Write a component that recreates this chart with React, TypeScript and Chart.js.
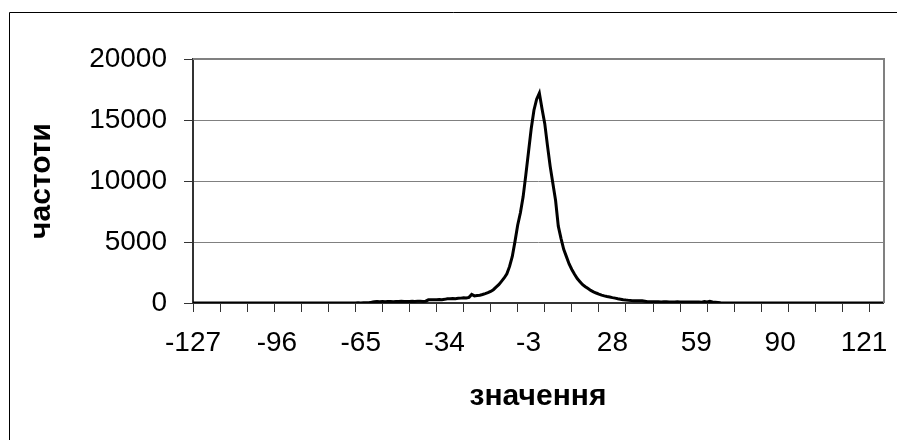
import { useEffect, useRef } from "react";
import { Chart, registerables } from "chart.js";

Chart.register(...registerables);

// first category of the x axis (значення)
const firstCategory = -127;

// frequencies (частоти) for значення -127 … 128
const frequencies: number[] = [
  // -127 … -118
  0, 0, 0, 0, 0, 0, 0, 0, 0, 0,
  // -117 … -108
  0, 0, 0, 0, 0, 0, 0, 0, 0, 0,
  // -107 … -98
  0, 0, 0, 0, 0, 0, 0, 0, 0, 0,
  // -97 … -88
  0, 0, 0, 0, 0, 0, 0, 0, 0, 0,
  // -87 … -78
  0, 0, 0, 0, 0, 0, 0, 0, 0, 0,
  // -77 … -68
  0, 0, 5, 0, 0, 10, 0, 5, 0, 10,
  // -67 … -58
  10, 15, 10, 20, 15, 30, 60, 110, 120, 110,
  // -57 … -48
  120, 110, 130, 120, 110, 130, 120, 140, 130, 120,
  // -47 … -38
  130, 140, 130, 150, 140, 130, 150, 260, 270, 260,
  // -37 … -28
  270, 280, 270, 300, 350, 340, 360, 350, 380, 400,
  // -27 … -18
  420, 410, 460, 700, 580, 620, 640, 700, 770, 850,
  // -17 … -8
  950, 1090, 1300, 1500, 1770, 2050, 2400, 3000, 3820, 5050,
  // -7 … 2
  6400, 7400, 8700, 10500, 12400, 14300, 15800, 16700, 17200, 15900,
  // 3 … 12
  14700, 12900, 11200, 9800, 8400, 6300, 5300, 4400, 3800, 3200,
  // 13 … 22
  2750, 2350, 2000, 1750, 1500, 1330, 1180, 1030, 920, 820,
  // 23 … 32
  730, 650, 580, 530, 490, 440, 400, 350, 310, 270,
  // 33 … 42
  240, 215, 200, 190, 185, 180, 175, 140, 110, 100,
  // 43 … 52
  100, 95, 100, 90, 95, 100, 90, 85, 90, 95,
  // 53 … 62
  85, 90, 80, 85, 90, 80, 75, 80, 70, 130,
  // 63 … 72
  90, 140, 80, 60, 40, 20, 10, 5, 10, 0,
  // 73 … 82
  5, 0, 0, 5, 0, 0, 0, 0, 0, 0,
  // 83 … 92
  0, 0, 0, 0, 0, 0, 0, 0, 0, 0,
  // 93 … 102
  0, 0, 0, 0, 0, 0, 0, 0, 0, 0,
  // 103 … 112
  0, 0, 0, 0, 0, 0, 0, 0, 0, 0,
  // 113 … 122
  0, 0, 0, 0, 0, 0, 0, 0, 0, 0,
  // 123 … 128
  0, 0, 0, 0, 0, 0,
];

const categories: string[] = frequencies.map((_, i) => String(firstCategory + i));

const labelEvery = 31; // -127, -96, -65, … 121
const tickMarkEvery = 10;
const yMin = 0;
const yMax = 20000;
const yStep = 5000;

const xTitle = "значення";
const yTitle = "частоти";

const FONT = "'Liberation Sans', Arial, sans-serif";

// grey plot-area frame (top and right) and the black outer chart frame (left and top)
const frames = {
  id: "frames",
  beforeDraw(chart: any) {
    const { ctx } = chart;
    ctx.save();
    ctx.strokeStyle = "#000000";
    ctx.lineWidth = 1;
    ctx.beginPath();
    ctx.moveTo(9.5, chart.height);
    ctx.lineTo(9.5, 12.5);
    ctx.lineTo(chart.width, 12.5);
    ctx.stroke();
    ctx.restore();
  },
  beforeDatasetsDraw(chart: any) {
    const { ctx, chartArea: a } = chart;
    ctx.save();
    ctx.strokeStyle = "#808080";
    ctx.lineWidth = 2;
    ctx.beginPath();
    ctx.moveTo(a.left, a.top);
    ctx.lineTo(a.right + 1, a.top);
    ctx.lineTo(a.right + 1, a.bottom);
    ctx.stroke();
    ctx.restore();
  },
};

export default function App() {
  const ref = useRef<HTMLCanvasElement | null>(null);

  useEffect(() => {
    if (!ref.current) return;
    const chart = new Chart(ref.current, {
      type: "line",
      data: {
        labels: categories,
        datasets: [
          {
            data: frequencies,
            borderColor: "#000000",
            borderWidth: 3,
            pointRadius: 0,
            pointHoverRadius: 0,
            fill: false,
            tension: 0,
          },
        ],
      },
      options: {
        animation: false,
        responsive: false,
        events: [],
        layout: { autoPadding: false, padding: { left: 0, top: 59, right: 8, bottom: 0 } },
        plugins: {
          legend: { display: false },
          tooltip: { enabled: false },
        },
        scales: {
          x: {
            type: "category",
            offset: false,
            grid: {
              display: true,
              drawOnChartArea: false,
              drawTicks: true,
              tickLength: 9,
              tickWidth: 1,
              tickColor: (c: any) =>
                c.index % tickMarkEvery === 0 ? "#333333" : "rgba(0,0,0,0)",
            },
            border: { display: true, color: "#333333", width: 2 },
            ticks: {
              autoSkip: false,
              maxRotation: 0,
              minRotation: 0,
              padding: 14,
              color: "#000000",
              font: { family: FONT, size: 28 },
              callback: (_v: any, index: number) =>
                index % labelEvery === 0 ? categories[index] : "",
            },
            title: {
              display: true,
              text: xTitle,
              color: "#000000",
              font: { family: FONT, size: 30, weight: "bold" },
              padding: { top: 0, bottom: 25 },
            },
            afterFit: (s: any) => {
              s.height = 137;
            },
          },
          y: {
            min: yMin,
            max: yMax,
            ticks: {
              stepSize: yStep,
              padding: 17,
              color: "#000000",
              font: { family: FONT, size: 28 },
              callback: (v: any) => String(v),
            },
            grid: {
              color: (c: any) =>
                c.tick && c.tick.value === yMin ? "rgba(0,0,0,0)" : "#808080",
              lineWidth: 1,
              tickLength: 9,
              tickColor: "#333333",
            },
            border: { display: true, color: "#333333", width: 2 },
            title: {
              display: true,
              text: yTitle,
              color: "#000000",
              font: { family: FONT, size: 30, weight: "bold" },
              padding: { top: 24, bottom: 0 },
            },
            afterFit: (s: any) => {
              s.width = 193;
            },
          },
        },
      } as any,
      plugins: [frames],
    });
    return () => chart.destroy();
  }, []);

  return (
    <div
      style={{
        position: "fixed",
        left: 0,
        top: 0,
        width: 897,
        height: 440,
        overflow: "hidden",
        background: "#ffffff",
      }}
    >
      <canvas
        ref={ref}
        width={897}
        height={440}
        style={{ position: "absolute", left: 0, top: 0, width: 897, height: 440 }}
      />
    </div>
  );
}
